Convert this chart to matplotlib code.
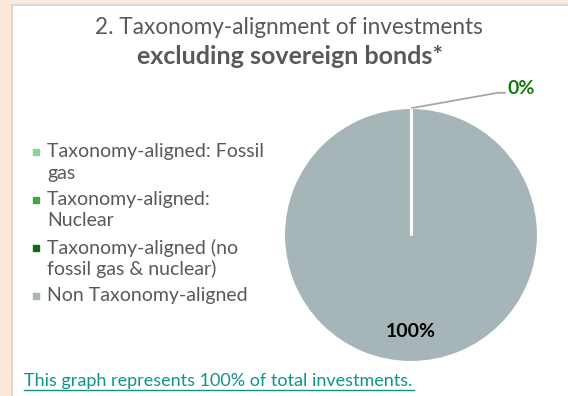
import matplotlib
matplotlib.use("Agg")
import numpy as np
import matplotlib.pyplot as plt
from matplotlib.patches import Rectangle

plt.rcParams['font.family'] = ['Lato', 'DejaVu Sans']

# ---- data ----
categories = ["Taxonomy-aligned: Fossil\ngas",
              "Taxonomy-aligned:\nNuclear",
              "Taxonomy-aligned (no\nfossil gas & nuclear)",
              "Non Taxonomy-aligned"]
values = [0, 0, 0, 100]
colors = ["#8DD19A", "#3FA548", "#0B6B14", "#A6B5B8"]
title_line1 = "2. Taxonomy-alignment of investments"
title_line2 = "excluding sovereign bonds*"
footer = "This graph represents 100% of total investments."

W, H = 568, 396
fig = plt.figure(figsize=(W / 100, H / 100), dpi=100, facecolor="#FDE9D9")

# white panel
fig.patches.append(Rectangle((12 / W, -0.05), 1.0, (396 - 5) / H + 0.05,
                             transform=fig.transFigure, facecolor="white",
                             edgecolor="#D9D9D9", linewidth=1.5, zorder=-5))

# pie axes: centre (411, 235) px, radius 127 px
cx, cy, r = 411, 235, 127
ax = fig.add_axes([(cx - r) / W, (H - cy - r) / H, 2 * r / W, 2 * r / H])
ax.set_zorder(2)
startangle = 90
wedges, _ = ax.pie(values, colors=colors, startangle=startangle,
                   counterclock=False, radius=1.0,
                   wedgeprops=dict(edgecolor="white", linewidth=1.5))
ax.set_xlim(-1, 1)
ax.set_ylim(-1, 1)
ax.set_aspect("equal")
ax.axis("off")

# wedge boundary lines (full-circle wedge draws no radial edge)
total = float(sum(values))
cum = np.concatenate([[0.0], np.cumsum(values)]) / total
for c in np.unique(cum):
    ang = np.deg2rad(startangle - 360 * c)
    ax.plot([0, np.cos(ang)], [0, np.sin(ang)], color="white", lw=2,
            solid_capstyle="butt")

aligned_total = sum(values[:3])
non_aligned = values[3]
ax.plot([0.01, 0.685, 0.74], [1.0, 1.12, 1.12], color="#A6A6A6", lw=1.3,
        clip_on=False)
ax.text(0.76, 1.155, f"{aligned_total:.0f}%", color="#137A13", fontsize=14,
        fontweight="bold", ha="left", va="center")
ax.text(0.0, -0.756, f"{non_aligned:.0f}%", color="black", fontsize=14,
        fontweight="bold", ha="center", va="center")

# titles
fig.text(289 / W, 1 - 28 / H, title_line1, ha="center", va="center",
         fontsize=16.3, color="#595959")
fig.text(290 / W, 1 - 57 / H, title_line2, ha="center", va="center",
         fontsize=18, color="#595959", fontweight="bold")

# legend (manual, marker aligned with first line of each entry)
y = 152
for lab, col in zip(categories, colors):
    lines = lab.split("\n")
    fig.add_artist(plt.Line2D([36 / W], [1 - y / H], marker="s", markersize=5,
                              color=col, linestyle="none",
                              transform=fig.transFigure))
    for i, ln in enumerate(lines):
        fig.text(47 / W, 1 - (y + 21 * i) / H, ln, ha="left", va="center",
                 fontsize=14, color="#595959")
    y += 21 * (len(lines) - 1) + 27

# footer
fig.text(24 / W, 1 - 381 / H, footer, ha="left", va="center",
         fontsize=13, color="#13928A")
fig.add_artist(plt.Line2D([24 / W, 414 / W], [1 - 390 / H, 1 - 390 / H],
                          transform=fig.transFigure, color="#13928A", lw=1))

fig.savefig("out.png", dpi=100, facecolor=fig.get_facecolor())
